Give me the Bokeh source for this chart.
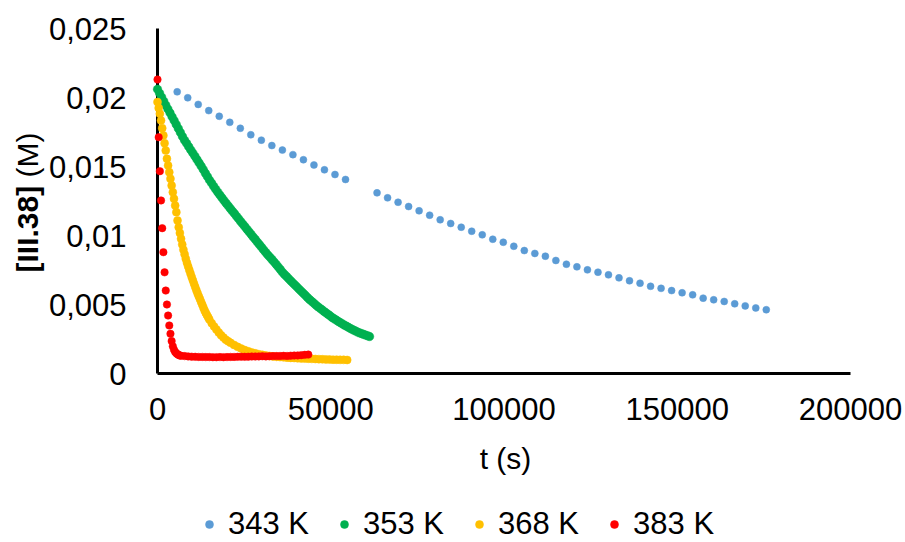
import math
from bokeh.plotting import figure
from bokeh.models import Range1d, FixedTicker, Legend, LegendItem, Label
from bokeh.embed import file_html
from bokeh.resources import INLINE

# ---------------- data ----------------
series_names = ["343 K", "353 K", "368 K", "383 K"]
series_colors = ["#5B9BD5", "#00B050", "#FFC000", "#FF0000"]
series_sizes = [7, 8.5, 8, 7.5]

x_ticks = [0, 50000, 100000, 150000, 200000]
x_tick_labels = ["0", "50000", "100000", "150000", "200000"]
y_ticks = [0, 0.005, 0.01, 0.015, 0.02, 0.025]
y_tick_labels = ["0", "0,005", "0,01", "0,015", "0,02", "0,025"]

t_343 = [5680, 8720, 11750, 14790, 17820, 20860, 23900, 26930, 29970, 33000,
         36040, 39080, 42110, 45150, 48180, 51220, 54260,
         63360, 66400, 69430, 72470, 75500, 78540, 81580, 84610, 87650, 90680,
         93720, 96760, 99790, 102830, 105860, 108900, 111940, 114970, 118010, 121040,
         124080, 127120, 130150, 133190, 136220, 139260, 142300, 145330, 148370, 151400,
         154440, 157480, 160510, 163550, 166580, 169620, 172660, 175690]
c_343 = [0.02041, 0.01998, 0.01950, 0.01905, 0.01864, 0.01820, 0.01777, 0.01730, 0.01691, 0.01652,
         0.01619, 0.01586, 0.01549, 0.01511, 0.01476, 0.01442, 0.01406,
         0.01309, 0.01273, 0.01241, 0.01210, 0.01179, 0.01147, 0.01114, 0.01087, 0.01060, 0.01031,
         0.01005, 0.00973, 0.00951, 0.00922, 0.00891, 0.00870, 0.00850, 0.00819, 0.00792, 0.00773,
         0.00751, 0.00734, 0.00715, 0.00693, 0.00672, 0.00654, 0.00632, 0.00617, 0.00601, 0.00585,
         0.00570, 0.00546, 0.00534, 0.00522, 0.00505, 0.00490, 0.00475, 0.00462]

t_353 = [0, 600, 1200, 1800, 2400, 3000, 3600, 4200, 4800, 5400,
         6000, 6600, 7200, 7800, 8400, 9000, 9600, 10200, 10800, 11400,
         12000, 12600, 13200, 13800, 14400, 15000, 15600, 16200, 16800, 17400,
         18000, 18600, 19200, 19800, 20400, 21000, 21600, 22200, 22800, 23400,
         24000, 24600, 25200, 25800, 26400, 27000, 27600, 28200, 28800, 29400,
         30000, 30600, 31200, 31800, 32400, 33000, 33600, 34200, 34800, 35400,
         36000, 36600, 37200, 37800, 38400, 39000, 39600, 40200, 40800, 41400,
         42000, 42600, 43200, 43800, 44400, 45000, 45600, 46200, 46800, 47400,
         48000, 48600, 49200, 49800, 50400, 51000, 51600, 52200, 52800, 53400,
         54000, 54600, 55200, 55800, 56400, 57000, 57600, 58200, 58800, 59400,
         60000, 60600, 61200]
c_353 = [0.02060, 0.02031, 0.02002, 0.01973, 0.01944, 0.01916, 0.01889, 0.01861, 0.01833, 0.01805,
         0.01776, 0.01747, 0.01718, 0.01691, 0.01668, 0.01644, 0.01620, 0.01597, 0.01574, 0.01550,
         0.01527, 0.01503, 0.01478, 0.01452, 0.01427, 0.01402, 0.01380, 0.01357, 0.01335, 0.01314,
         0.01293, 0.01273, 0.01253, 0.01234, 0.01215, 0.01196, 0.01177, 0.01159, 0.01140, 0.01121,
         0.01102, 0.01083, 0.01065, 0.01046, 0.01028, 0.01009, 0.00990, 0.00972, 0.00953, 0.00934,
         0.00916, 0.00897, 0.00879, 0.00860, 0.00844, 0.00827, 0.00810, 0.00792, 0.00774, 0.00755,
         0.00736, 0.00719, 0.00704, 0.00689, 0.00673, 0.00658, 0.00643, 0.00628, 0.00613, 0.00598,
         0.00583, 0.00568, 0.00553, 0.00538, 0.00525, 0.00512, 0.00499, 0.00486, 0.00474, 0.00463,
         0.00451, 0.00440, 0.00429, 0.00418, 0.00406, 0.00396, 0.00387, 0.00377, 0.00368, 0.00359,
         0.00350, 0.00342, 0.00333, 0.00325, 0.00317, 0.00310, 0.00302, 0.00295, 0.00290, 0.00284,
         0.00279, 0.00273, 0.00268]

t_368 = [0, 340, 680, 1020, 1360, 1700, 2040, 2380, 2720, 3060,
         3400, 3740, 4080, 4420, 4760, 5100, 5440, 5780, 6120,
         6460, 6800, 7140, 7480, 7820, 8160, 8500, 8840, 9180, 9520, 9860, 10200,
         10540, 10880, 11220, 11560, 11900, 12240, 12580, 12920, 13260, 13600,
         13940, 14280, 14620, 14960,
         15640, 16320, 17000, 17680, 18360, 19040, 19720, 20400, 21080,
         22100, 23120, 24140, 25160, 26180, 27200, 28220, 29240, 30260, 31280,
         32300, 33320, 34340, 35360, 36380, 37400, 38420, 39440, 40460, 41480,
         42500, 43520, 44540, 45560, 46580, 47600, 48620, 49640, 50660, 51680,
         52700, 53720, 54740]
c_368 = [0.01967, 0.01924, 0.01882, 0.01833, 0.01778, 0.01725, 0.01669, 0.01616, 0.01556, 0.01507,
         0.01459, 0.01411, 0.01362, 0.01314, 0.01266, 0.01217, 0.01169, 0.01109, 0.01060,
         0.01018, 0.00976, 0.00935, 0.00897, 0.00864, 0.00831, 0.00802, 0.00776, 0.00750, 0.00724, 0.00699, 0.00675,
         0.00651, 0.00627, 0.00604, 0.00581, 0.00560, 0.00540, 0.00519, 0.00498, 0.00477, 0.00456,
         0.00439, 0.00423, 0.00407, 0.00392,
         0.00365, 0.00341, 0.00319, 0.00297, 0.00277, 0.00260, 0.00245, 0.00233, 0.00222,
         0.00207, 0.00193, 0.00181, 0.00170, 0.00161, 0.00153, 0.00146, 0.00140, 0.00135, 0.00131,
         0.00127, 0.00124, 0.00121, 0.00119, 0.00117, 0.00115, 0.00113, 0.00112, 0.00110, 0.00109,
         0.00108, 0.00107, 0.00106, 0.00105, 0.00104, 0.00103, 0.00102, 0.00101, 0.00100, 0.00100,
         0.00099, 0.00099, 0.00098]

t_383 = [0, 340, 680, 1020, 1360, 1700, 2040, 2380, 2720, 3060,
         3400, 3740, 4080, 4420, 4760, 5100, 5440, 5780, 6120, 6460, 6800,
         7820, 8840, 9860, 10880, 11900, 12920, 13940, 14960, 15980, 17000,
         18020, 19040, 20060, 21080, 22100, 23120, 24140, 25160, 26180, 27200,
         28220, 29240, 30260, 31280, 32300, 33320, 34340, 35360, 36380, 37400,
         38420, 39440, 40460, 41480, 42500, 43520]
c_383 = [0.02130, 0.01712, 0.01466, 0.01254, 0.01053, 0.00879, 0.00733, 0.00601, 0.00500, 0.00420,
         0.00348, 0.00288, 0.00235, 0.00197, 0.00172, 0.00156, 0.00146, 0.00139, 0.00134, 0.00131, 0.00128,
         0.00126, 0.00124, 0.00122, 0.00121, 0.00120, 0.00120, 0.00119, 0.00119, 0.00118, 0.00118,
         0.00119, 0.00118, 0.00119, 0.00120, 0.00120, 0.00121, 0.00122, 0.00121, 0.00122, 0.00123,
         0.00123, 0.00124, 0.00125, 0.00124, 0.00125, 0.00126, 0.00126, 0.00127, 0.00128, 0.00127,
         0.00129, 0.00130, 0.00131, 0.00133, 0.00135, 0.00137]

series_t = [t_343, t_353, t_368, t_383]
series_c = [c_343, c_353, c_368, c_383]

x_title = "t (s)"
y_title_bold = "[III.38]"
y_title_unit = "(M)"

# ---------------- layout constants (pixels) ----------------
W, H = 905, 542
X0_PX, X1_PX = 157, 850          # where t = 0 and t = 200000 fall
Y0_PX, Y1_PX = 373, 28           # where c = 0 and c = 0.025 fall
sx = (x_ticks[-1] - x_ticks[0]) / (X1_PX - X0_PX)
sy = (y_ticks[-1] - y_ticks[0]) / (Y0_PX - Y1_PX)

FONT = "Liberation Sans"

# the frame covers the whole canvas so that every annotation lies inside it
p = figure(frame_width=W, frame_height=H,
           x_range=Range1d(-X0_PX * sx, (W - X0_PX) * sx),
           y_range=Range1d(-(H - Y0_PX) * sy, Y0_PX * sy),
           min_border_left=0, min_border_right=0, min_border_top=0, min_border_bottom=0,
           output_backend="svg", toolbar_location=None)
p.grid.visible = False
p.outline_line_color = None
p.background_fill_color = "white"
p.border_fill_color = "white"

xa = p.xaxis[0]
xa.fixed_location = 0
xa.bounds = (x_ticks[0], x_ticks[-1])
xa.ticker = FixedTicker(ticks=x_ticks)
xa.major_label_overrides = dict(zip(x_ticks, x_tick_labels))
xa.axis_line_color = "black"
xa.axis_line_width = 3
xa.major_tick_line_color = None
xa.minor_tick_line_color = None
xa.major_label_standoff = 18
xa.major_label_text_font = FONT
xa.major_label_text_font_size = "31px"
xa.major_label_text_color = "black"

ya = p.yaxis[0]
ya.fixed_location = 0
ya.bounds = (y_ticks[0], y_ticks[-1])
ya.ticker = FixedTicker(ticks=y_ticks)
ya.major_label_overrides = dict(zip(y_ticks, y_tick_labels))
ya.axis_line_color = "black"
ya.axis_line_width = 3
ya.major_tick_line_color = None
ya.minor_tick_line_color = None
ya.major_label_standoff = 25
ya.major_label_text_font = FONT
ya.major_label_text_font_size = "31px"
ya.major_label_text_color = "black"
ya.level = "underlay"

renderers = []
for t, c, col, sz in zip(series_t, series_c, series_colors, series_sizes):
    r = p.scatter(t, c, size=sz, fill_color=col, line_color=col, line_width=0.5)
    renderers.append(r)

# axis titles
p.add_layout(Label(x=(x_ticks[0] + x_ticks[-1]) / 2 + 1.5 * sx, y=-(458 - Y0_PX) * sy,
                   text=x_title, text_font=FONT, text_font_size="30px",
                   text_align="center", text_baseline="middle", text_color="black"))
p.add_layout(Label(x=0, y=(Y0_PX - 272) * sy, x_offset=-130, text=y_title_bold, angle=math.pi / 2,
                   text_font=FONT, text_font_size="30px", text_font_style="bold",
                   text_align="left", text_baseline="middle", text_color="black"))
p.add_layout(Label(x=0, y=(Y0_PX - 177) * sy, x_offset=-130, text=y_title_unit, angle=math.pi / 2,
                   text_font=FONT, text_font_size="30px", text_font_style="normal",
                   text_align="left", text_baseline="middle", text_color="black"))

legend = Legend(items=[LegendItem(label=n, renderers=[r]) for n, r in zip(series_names, renderers)],
                orientation="horizontal", location=(199, 0),
                padding=0, margin=0, spacing=25, glyph_width=20, glyph_height=20,
                label_standoff=9, label_text_font=FONT, label_text_font_size="31px",
                label_text_color="black", border_line_color=None, background_fill_alpha=0)
p.add_layout(legend)

open("out.html", "w").write(file_html(p, INLINE))
